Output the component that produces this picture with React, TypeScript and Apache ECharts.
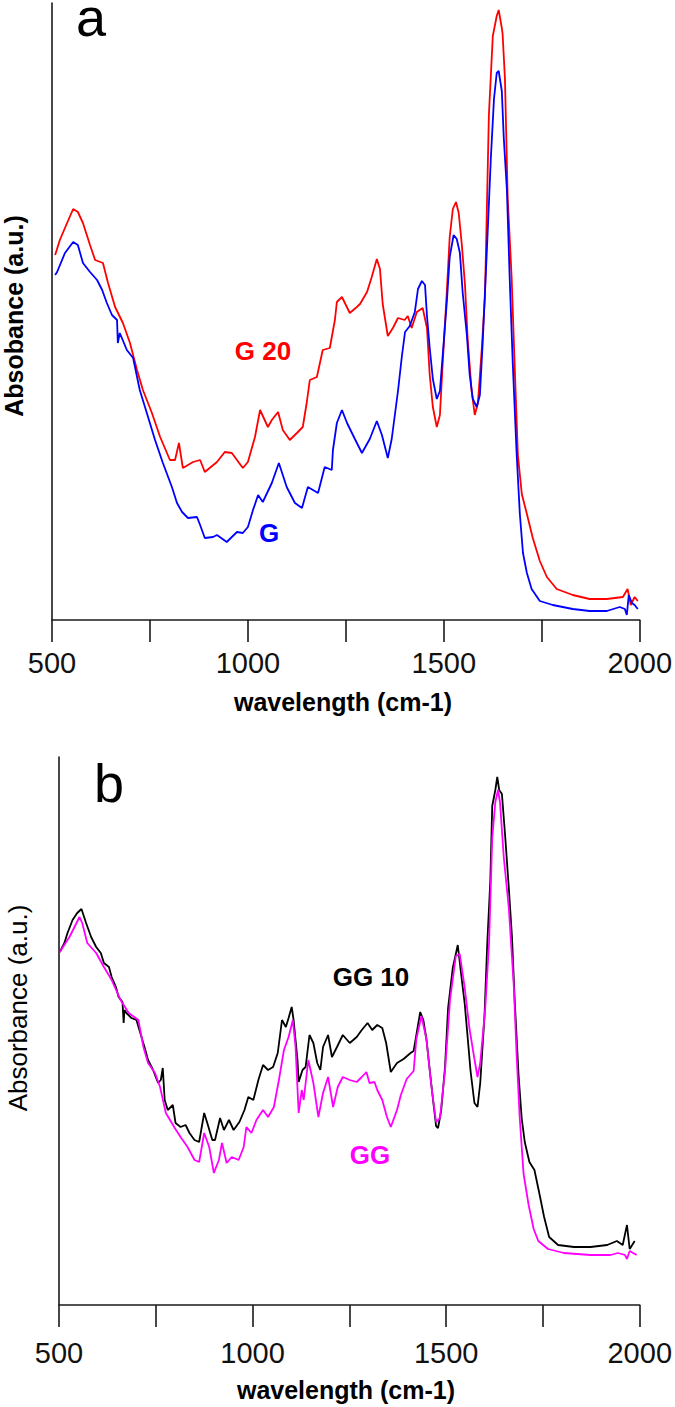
import React, { useEffect, useRef } from "react";
import * as echarts from "echarts";

// wavenumber (cm-1), absorbance (a.u.)
const g20Spectrum: number[][] = [
  [508, 365], [520, 380], [533, 392], [554, 411], [566, 408], [579, 397], [597, 375], [610, 360],
  [630, 357], [643, 337], [661, 313], [681, 297], [699, 277], [717, 250], [732, 230], [755, 207],
  [776, 183], [801, 160], [814, 160], [824, 177], [834, 152], [860, 158], [878, 160], [890, 148],
  [921, 158], [941, 168], [959, 167], [987, 152], [1000, 158], [1018, 183], [1031, 210], [1051, 193],
  [1061, 200], [1077, 208], [1089, 190], [1107, 180], [1125, 187], [1140, 193], [1150, 217], [1158, 240],
  [1176, 243], [1191, 270], [1209, 272], [1222, 300], [1227, 318], [1240, 323], [1260, 307], [1278, 313],
  [1286, 316], [1304, 328], [1316, 343], [1329, 361], [1337, 351], [1344, 316], [1357, 284], [1370, 292],
  [1383, 302], [1400, 300], [1408, 304], [1418, 292], [1431, 308], [1446, 312], [1457, 292], [1464, 245],
  [1472, 213], [1482, 193], [1490, 205], [1497, 256], [1508, 331], [1515, 383], [1523, 411], [1531, 418],
  [1538, 407], [1546, 375], [1554, 335], [1561, 280], [1571, 229], [1579, 205], [1587, 217], [1597, 272],
  [1605, 324], [1610, 414], [1615, 505], [1625, 584], [1635, 604], [1640, 610], [1648, 592], [1650, 586],
  [1656, 541], [1663, 422], [1673, 343], [1681, 252], [1689, 165], [1699, 126], [1712, 106], [1727, 82],
  [1745, 59], [1763, 43], [1788, 31], [1829, 25], [1872, 21], [1916, 21], [1957, 23], [1969, 31],
  [1977, 15], [1987, 23], [1995, 19]
];

const gSpectrum: number[][] = [
  [508, 345], [513, 348], [533, 367], [554, 378], [566, 375], [579, 357], [597, 348], [615, 340],
  [628, 330], [640, 317], [653, 305], [666, 300], [668, 277], [673, 287], [691, 270], [707, 262],
  [724, 230], [742, 207], [763, 180], [783, 157], [806, 133], [819, 117], [832, 108], [847, 102],
  [870, 103], [878, 95], [890, 82], [911, 83], [921, 85], [946, 78], [972, 88], [987, 87],
  [1000, 93], [1013, 110], [1026, 125], [1038, 118], [1061, 137], [1079, 157], [1099, 133], [1120, 117],
  [1138, 112], [1153, 133], [1166, 130], [1179, 127], [1196, 153], [1214, 150], [1217, 170], [1227, 197],
  [1240, 210], [1253, 197], [1273, 181], [1291, 167], [1311, 181], [1329, 199], [1342, 185], [1357, 162],
  [1367, 181], [1375, 205], [1383, 229], [1393, 264], [1401, 288], [1413, 294], [1426, 308], [1434, 331],
  [1444, 339], [1452, 335], [1457, 304], [1464, 272], [1472, 241], [1482, 221], [1490, 229], [1497, 264],
  [1508, 320], [1515, 363], [1525, 385], [1533, 381], [1541, 367], [1548, 328], [1559, 284], [1566, 245],
  [1574, 221], [1584, 213], [1592, 225], [1599, 276], [1610, 371], [1620, 462], [1628, 521], [1635, 547],
  [1640, 549], [1648, 529], [1653, 482], [1661, 430], [1668, 343], [1676, 256], [1686, 165], [1694, 106],
  [1702, 67], [1712, 47], [1724, 31], [1745, 19], [1778, 15], [1829, 11], [1872, 9], [1916, 9],
  [1949, 13], [1962, 11], [1967, 5], [1972, 25], [1980, 17], [1987, 15], [1995, 11]
];

const gg10Spectrum: number[][] = [
  [502, 353], [514, 362], [522, 372], [535, 385], [547, 392], [558, 396], [570, 382], [583, 368],
  [596, 358], [608, 352], [616, 342], [629, 338], [636, 328], [647, 318], [654, 308], [664, 303],
  [667, 282], [669, 295], [674, 292], [687, 287], [700, 285], [710, 272], [723, 255], [730, 245],
  [743, 235], [756, 222], [763, 225], [768, 237], [773, 205], [781, 195], [794, 200], [801, 182],
  [814, 178], [827, 180], [837, 172], [850, 165], [862, 163], [875, 192], [883, 182], [896, 165],
  [903, 165], [916, 187], [926, 175], [939, 185], [951, 175], [966, 183], [979, 195], [989, 208],
  [1002, 205], [1015, 225], [1027, 240], [1040, 235], [1053, 238], [1065, 252], [1076, 285], [1086, 278],
  [1093, 287], [1101, 298], [1106, 285], [1116, 245], [1119, 223], [1129, 235], [1137, 238], [1147, 270],
  [1157, 262], [1167, 242], [1175, 235], [1182, 258], [1195, 270], [1205, 248], [1218, 258], [1233, 270],
  [1251, 262], [1269, 268], [1282, 275], [1297, 282], [1309, 275], [1322, 280], [1335, 277], [1345, 262],
  [1357, 233], [1373, 242], [1390, 246], [1408, 252], [1416, 254], [1423, 270], [1433, 293], [1441, 285],
  [1449, 266], [1459, 230], [1467, 202], [1474, 179], [1479, 177], [1487, 194], [1497, 238], [1505, 297],
  [1517, 337], [1530, 360], [1538, 333], [1548, 301], [1555, 270], [1563, 234], [1573, 202], [1581, 198],
  [1588, 222], [1599, 289], [1606, 360], [1614, 424], [1619, 499], [1627, 515], [1632, 528], [1637, 515],
  [1644, 511], [1652, 471], [1662, 416], [1670, 368], [1677, 305], [1687, 230], [1695, 187], [1703, 163],
  [1715, 143], [1728, 135], [1741, 111], [1753, 88], [1766, 68], [1789, 60], [1830, 58], [1873, 58],
  [1916, 60], [1941, 64], [1956, 60], [1967, 80], [1974, 56], [1987, 64]
];

const ggSpectrum: number[][] = [
  [502, 353], [527, 368], [553, 388], [560, 382], [573, 362], [596, 352], [616, 338], [636, 325],
  [659, 305], [680, 292], [705, 285], [718, 258], [730, 242], [748, 232], [761, 218], [776, 192],
  [799, 177], [814, 168], [832, 158], [850, 145], [862, 143], [875, 172], [888, 158], [900, 132],
  [913, 145], [921, 162], [933, 142], [946, 148], [964, 145], [977, 158], [984, 178], [997, 172],
  [1010, 185], [1027, 195], [1040, 188], [1055, 198], [1068, 225], [1081, 255], [1093, 268], [1104, 285],
  [1111, 258], [1119, 192], [1127, 215], [1132, 205], [1144, 245], [1157, 222], [1170, 188], [1182, 212],
  [1195, 228], [1208, 198], [1220, 218], [1233, 228], [1251, 225], [1269, 223], [1282, 228], [1294, 233],
  [1302, 222], [1315, 223], [1322, 215], [1335, 205], [1347, 188], [1357, 178], [1373, 195], [1383, 210],
  [1398, 226], [1416, 234], [1423, 266], [1436, 289], [1449, 266], [1462, 218], [1474, 183], [1484, 187],
  [1497, 234], [1510, 305], [1525, 349], [1535, 351], [1548, 317], [1560, 277], [1573, 246], [1581, 228],
  [1588, 242], [1601, 297], [1611, 364], [1619, 467], [1627, 503], [1634, 515], [1639, 503], [1649, 447],
  [1662, 396], [1675, 317], [1682, 250], [1690, 187], [1700, 131], [1713, 100], [1726, 76], [1738, 64],
  [1763, 56], [1804, 52], [1873, 50], [1924, 50], [1944, 52], [1962, 50], [1967, 46], [1974, 54],
  [1992, 50]
];

const xMin = 500;
const xMax = 2000;
const xTickStep = 250;
const xLabelValues = [500, 1000, 1500, 2000];
const yMaxA = 617;
const yMaxB = 548;

const FONT = "'Liberation Sans', Arial, Helvetica, sans-serif";
const AXIS_COLOR = "#1a1a1a";

export default function App() {
  const ref = useRef<HTMLDivElement>(null);

  useEffect(() => {
    if (!ref.current) return;
    const chart = echarts.init(ref.current, null, { renderer: "svg" });

    const xAxisBase = (gridIndex: number, margin: number) => ({
      type: "value",
      gridIndex,
      min: xMin,
      max: xMax,
      interval: xTickStep,
      axisLine: { show: true, onZero: false, lineStyle: { color: AXIS_COLOR, width: 1.6 } },
      axisTick: { show: true, length: 22, lineStyle: { color: AXIS_COLOR, width: 1.6 } },
      splitLine: { show: false },
      axisLabel: {
        show: true,
        margin,
        fontSize: 29,
        fontFamily: FONT,
        color: "#111",
        showMinLabel: true,
        showMaxLabel: true,
        formatter: (v: number) => (xLabelValues.includes(v) ? String(v) : ""),
      },
    });

    const yAxisBase = (gridIndex: number, max: number) => ({
      type: "value",
      gridIndex,
      min: 0,
      max,
      axisLine: { show: true, onZero: false, lineStyle: { color: AXIS_COLOR, width: 1.6 } },
      axisTick: { show: false },
      axisLabel: { show: false },
      splitLine: { show: false },
    });

    const lineSeries = (name: string, data: number[][], color: string, idx: number) => ({
      name,
      type: "line",
      xAxisIndex: idx,
      yAxisIndex: idx,
      data,
      showSymbol: false,
      symbol: "none",
      lineStyle: { color, width: 1.8 },
      z: 3,
    });

    const labelText = (
      text: string,
      x: number,
      y: number,
      fontSize: number,
      color: string,
      fontWeight: string,
      rotation = 0,
      align = "center",
      lineHeight?: number
    ) => ({
      type: "text",
      x,
      y,
      rotation,
      style: {
        text,
        fontSize,
        fontFamily: FONT,
        fontWeight,
        fill: color,
        align,
        verticalAlign: "middle",
        ...(lineHeight ? { lineHeight } : {}),
      },
      z: 10,
    });

    chart.setOption({
      animation: false,
      backgroundColor: "#ffffff",
      grid: [
        { left: 52, top: 3, width: 588, height: 617, containLabel: false },
        { left: 59, top: 757, width: 591, height: 548, containLabel: false },
      ],
      xAxis: [xAxisBase(0, 28), xAxisBase(1, 33)],
      yAxis: [yAxisBase(0, yMaxA), yAxisBase(1, yMaxB)],
      series: [
        lineSeries("G 20", g20Spectrum, "#ff0000", 0),
        lineSeries("G", gSpectrum, "#0000ff", 0),
        lineSeries("GG 10", gg10Spectrum, "#000000", 1),
        lineSeries("GG", ggSpectrum, "#ff00ff", 1),
      ],
      graphic: [
        labelText("a", 76, 17, 54, "#000", "normal", 0, "left", 32),
        labelText("b", 94, 783, 54, "#000", "normal", 0, "left"),
        labelText("Absobance (a.u.)", 14, 316, 25, "#000", "bold", Math.PI / 2),
        labelText("Absorbance (a.u.)", 18, 1008, 26, "#000", "normal", Math.PI / 2),
        labelText("wavelength (cm-1)", 343, 702, 25, "#000", "bold"),
        labelText("wavelength (cm-1)", 346, 1390, 25, "#000", "bold"),
        labelText("G 20", 263, 351, 26, "#ff0000", "bold"),
        labelText("G", 269, 533, 26, "#0000ff", "bold"),
        labelText("GG 10", 371, 977, 26, "#000000", "bold"),
        labelText("GG", 370, 1155, 26, "#ff00ff", "bold"),
      ],
    });

    return () => chart.dispose();
  }, []);

  return (
    <div
      ref={ref}
      style={{ position: "absolute", left: 0, top: 0, width: 675, height: 1407, background: "#fff" }}
    />
  );
}
